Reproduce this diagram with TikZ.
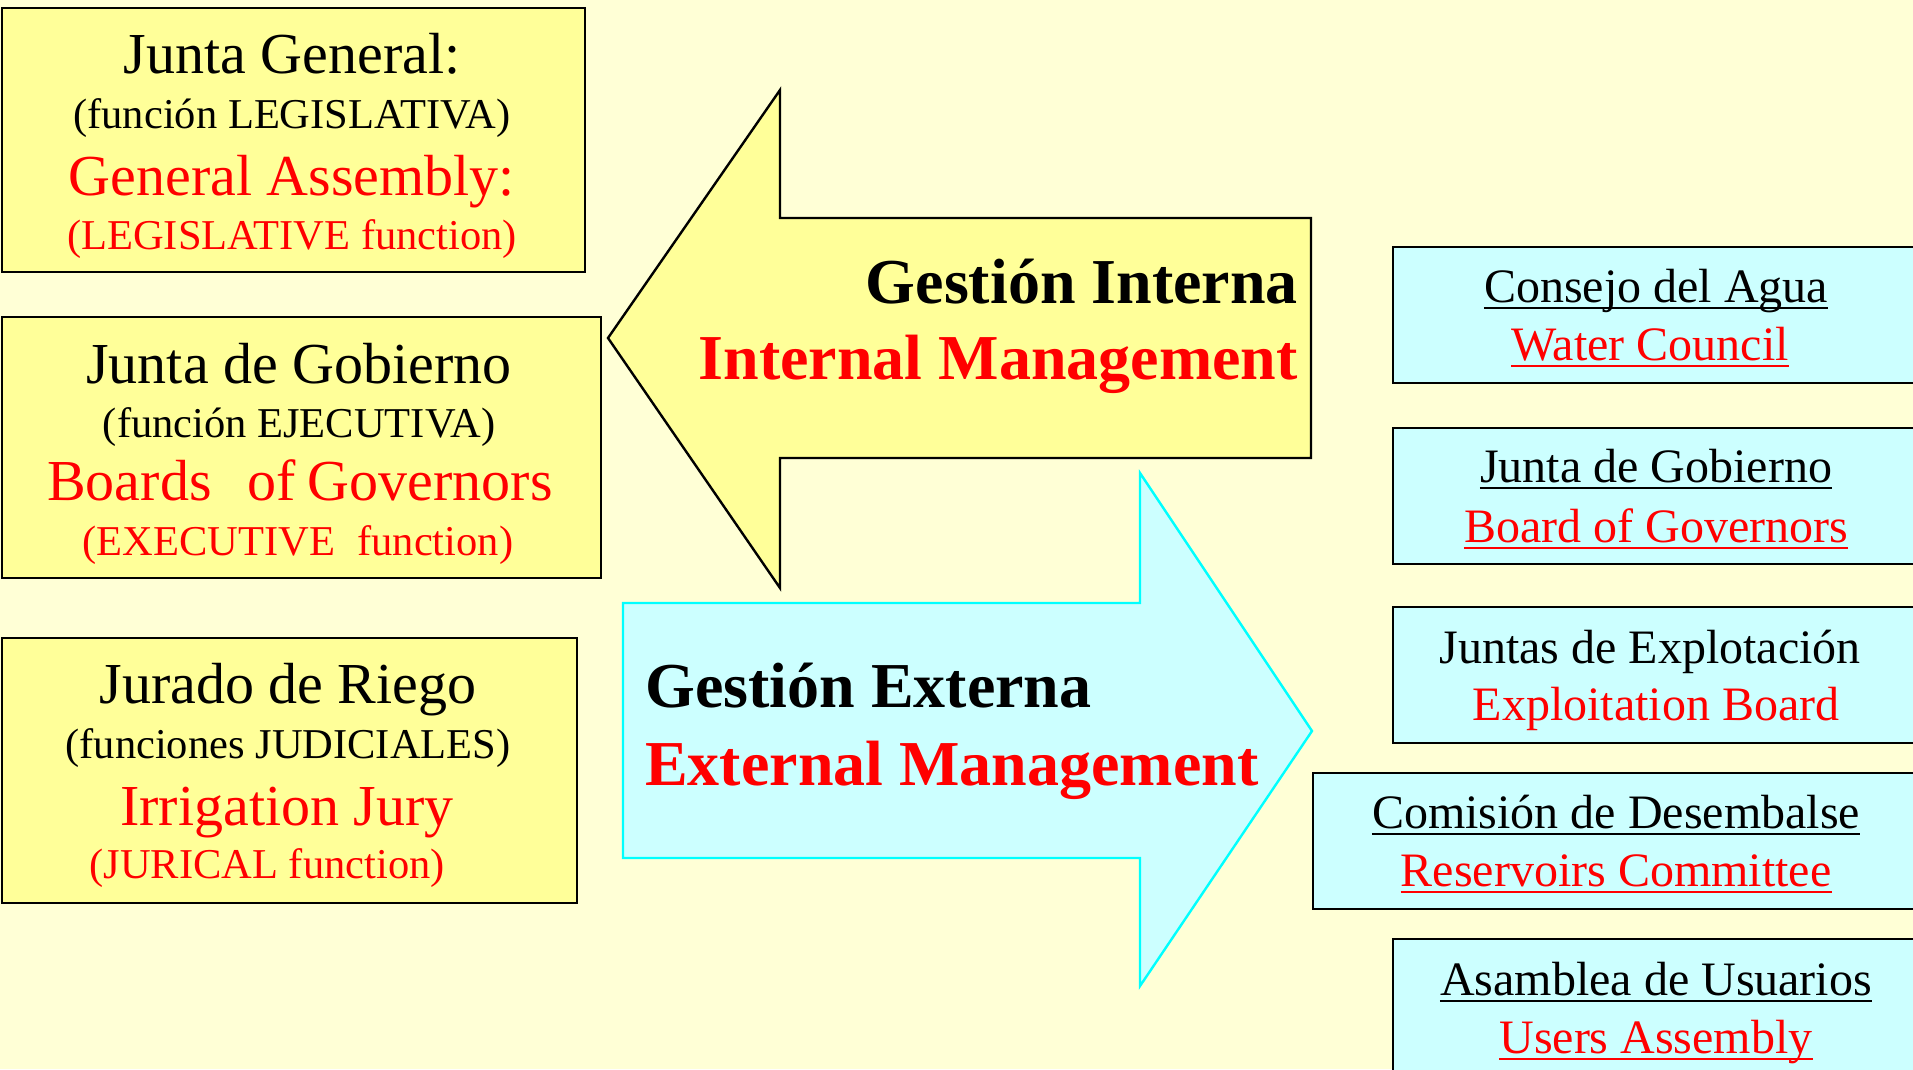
\documentclass[tikz,border=0pt]{standalone}
\usepackage{fontspec}
\setmainfont{Liberation Serif}
\definecolor{bgc}{RGB}{255,255,214}
\definecolor{yfill}{RGB}{255,255,153}
\definecolor{cfill}{RGB}{204,255,255}
\definecolor{cline}{RGB}{0,255,255}
\definecolor{tred}{RGB}{255,0,0}
\tikzset{
  ybox/.style={draw=black, line width=2.4pt, fill=yfill, inner sep=0pt, anchor=north west},
  cbox/.style={draw=black, line width=2.4pt, fill=cfill, inner sep=0pt, anchor=north west},
  txt/.style={inner sep=0pt, anchor=base},
  bigf/.style={txt, font=\fontsize{58}{60}\selectfont},
  smallf/.style={txt, font=\fontsize{42.5}{44}\selectfont},
  midf/.style={txt, font=\fontsize{48}{50}\selectfont},
  boldf/.style={inner sep=0pt, font=\fontsize{64}{66}\selectfont\bfseries},
  redt/.style={text=tred},
  ulk/.style={line width=2.5pt, draw=black},
  ulr/.style={line width=2.5pt, draw=tred},
}
\newcommand{\ulline}[2]{\draw[#1] ([yshift=-6pt]#2.base west) -- ([yshift=-6pt]#2.base east);}
\begin{document}
\begin{tikzpicture}[x=1pt,y=-1pt]
\useasboundingbox (0,0) rectangle (1913,1069);
\fill[bgc] (0,0) rectangle (1913,1069);
\clip (0,0) rectangle (1913,1069);

% left yellow boxes
\node[ybox, minimum width=583pt, minimum height=264pt] (b1) at (1,7) {};
\node[ybox, minimum width=599pt, minimum height=261pt] (b2) at (1,316) {};
\node[ybox, minimum width=575pt, minimum height=265pt] (b3) at (1,637) {};

\node[bigf] (b1a) at (292,73) {Junta General:};
\node[smallf] (b1b) at (292,128) {(función LEGISLATIVA)};
\node[bigf, redt] (b1c) at (292,195) {General Assembly:};
\node[smallf, redt] (b1d) at (292,249) {(LEGISLATIVE function)};

\node[bigf] (b2a) at (299,383) {Junta de Gobierno};
\node[smallf] (b2b) at (299,437) {(función EJECUTIVA)};
\node[bigf, redt] (b2c) at (300,500) {Boards\hspace{36pt}of\hspace{12pt}Governors};
\node[smallf, redt] (b2d) at (298,555) {(EXECUTIVE\hspace{22pt}function)};

\node[bigf] (b3a) at (288,703) {Jurado de Riego};
\node[smallf] (b3b) at (288,758) {(funciones JUDICIALES)};
\node[bigf, redt] (b3c) at (287,825) {Irrigation Jury};
\node[smallf, redt] (b3d) at (267,878) {(JURICAL function)};

% arrows
\draw[line width=2.4pt, fill=yfill, line join=miter]
  (1311,218) -- (780,218) -- (780,90) -- (608,338) -- (780,588) -- (780,458) -- (1311,458) -- cycle;
\draw[line width=2.4pt, draw=cline, fill=cfill, line join=miter]
  (623,603) -- (1140,603) -- (1140,473) -- (1312,731) -- (1140,986) -- (1140,858) -- (623,858) -- cycle;

\node[boldf, anchor=base east] (gi) at (1298,303) {Gestión Interna};
\node[boldf, anchor=base east, redt] (im) at (1298,379) {Internal Management};
\node[boldf, anchor=base west] (ge) at (645,707) {Gestión Externa};
\node[boldf, anchor=base west, redt] (em) at (645,785) {External Management};

% right cyan boxes
\node[cbox, minimum width=540pt, minimum height=136pt] (r1) at (1392,246) {};
\node[cbox, minimum width=540pt, minimum height=136pt] (r2) at (1392,427) {};
\node[cbox, minimum width=540pt, minimum height=136pt] (r3) at (1392,606) {};
\node[cbox, minimum width=620pt, minimum height=136pt] (r4) at (1312,772) {};
\node[cbox, minimum width=540pt, minimum height=160pt] (r5) at (1392,938) {};

\node[midf] (r1a) at (1656,302) {Consejo del Agua};
\node[midf, redt] (r1b) at (1650,360) {Water Council};
\node[midf] (r2a) at (1656,482) {Junta de Gobierno};
\node[midf, redt] (r2b) at (1656,542) {Board of Governors};
\node[midf] (r3a) at (1650,663) {Juntas de Explotación};
\node[midf, redt] (r3b) at (1656,720) {Exploitation Board};
\node[midf] (r4a) at (1616,828) {Comisión de Desembalse};
\node[midf, redt] (r4b) at (1616,886) {Reservoirs Committee};
\node[midf] (r5a) at (1656,995) {Asamblea de Usuarios};
\node[midf, redt] (r5b) at (1656,1053) {Users Assembly};

\ulline{ulk}{r1a}
\ulline{ulr}{r1b}
\ulline{ulk}{r2a}
\ulline{ulr}{r2b}
\ulline{ulk}{r4a}
\ulline{ulr}{r4b}
\ulline{ulk}{r5a}
\ulline{ulr}{r5b}
\end{tikzpicture}
\end{document}
